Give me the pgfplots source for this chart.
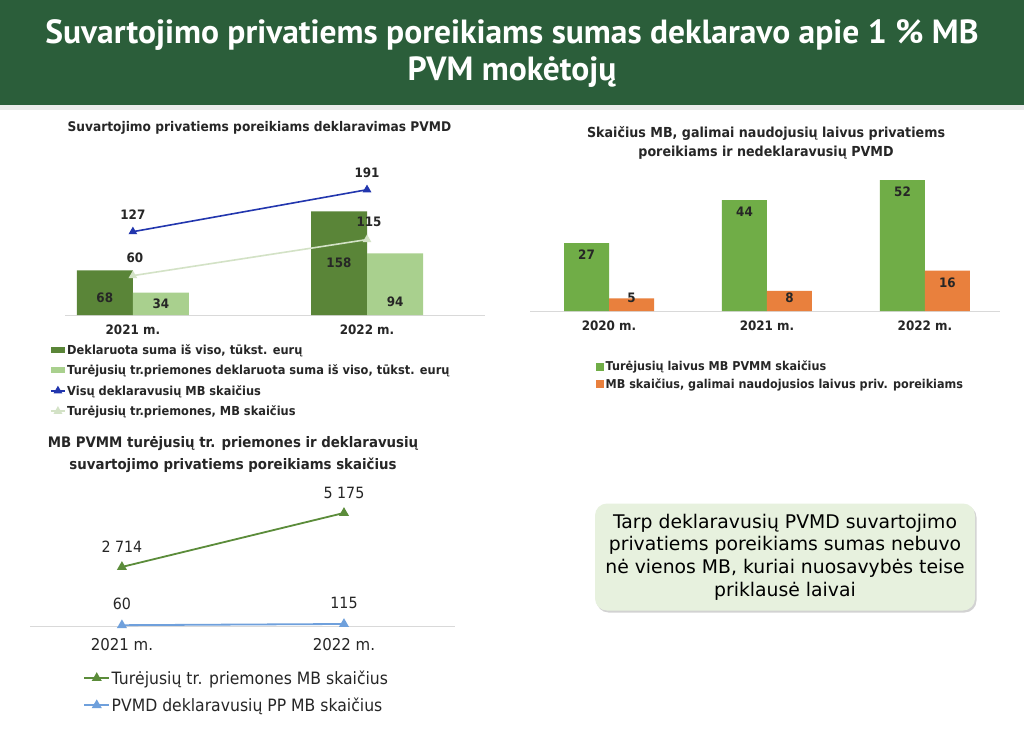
\documentclass[border=0pt]{standalone}
\usepackage{fontspec}
\setmainfont{DejaVu Sans}[FakeStretch=0.92]
\newfontfamily\bannerfont{PT Sans}
\newfontfamily\boxfont{DejaVu Sans}
\usepackage{pgfplots}
\pgfplotsset{compat=1.18}
\usetikzlibrary{shadows}

\definecolor{banner}{HTML}{2B5E3A}
\definecolor{txt}{HTML}{262626}
\definecolor{baseln}{HTML}{D9D9D9}
\definecolor{cdark}{HTML}{5A8538}
\definecolor{clight}{HTML}{A9D08E}
\definecolor{cblue}{HTML}{2236AE}
\definecolor{cpale}{HTML}{D3E2C6}
\definecolor{cgreen}{HTML}{70AD47}
\definecolor{corange}{HTML}{E9803D}
\definecolor{tgreen}{HTML}{5B8C3A}
\definecolor{tblue}{HTML}{6FA0DC}
\definecolor{boxfill}{HTML}{E7F1DE}

\pgfplotsset{
  /pgf/number format/assume math mode=true,
  slide/.style={
    scale only axis, anchor=south west,
    axis x line=bottom, axis y line=none,
    x axis line style={-, draw=baseln, line width=1pt},
    xtick style={draw=none},
    ymin=0,
    legend cell align=left,
  },
  barleg/.style={legend image code/.code={\fill[##1] (0pt,-3pt) rectangle (14pt,3pt);}},
  sqleg/.style={legend image code/.code={\fill[##1] (0pt,-4pt) rectangle (8pt,4pt);}},
  lineleg/.style={legend image code/.code={%
    \draw[##1, mark repeat=2, mark phase=2] plot coordinates {(0pt,0pt) (#1/2,0pt) (#1,0pt)};}},
}

\begin{document}
\begin{tikzpicture}
\useasboundingbox (0pt,0pt) rectangle (1024pt,737pt);
\fill[white] (0pt,0pt) rectangle (1024pt,737pt);

% banner
\fill[banner] (0pt,632pt) rectangle (1024pt,737pt);
\fill[black!8] (0pt,627pt) rectangle (1024pt,632pt);
\node[white, align=center, font=\bannerfont\bfseries\fontsize{33.5}{37}\selectfont]
  at (512pt,683pt) {Suvartojimo privatiems poreikiams sumas deklaravo apie 1 \% MB\\PVM mokėtojų};

% chart 1
\node[anchor=west, text=txt, font=\bfseries\fontsize{13.3}{15}\selectfont]
  at (64pt,609pt) {Suvartojimo privatiems poreikiams deklaravimas PVMD};
\begin{axis}[slide,
  at={(65pt,422pt)}, width=420pt, height=155pt,
  xmin=-0.29, xmax=1.504, ymax=236.3,
  xtick={0,1}, xticklabels={2021 m., 2022 m.},
  xticklabel style={text=txt, font=\bfseries\fontsize{13}{14}\selectfont, yshift=-4pt},
  legend style={at={(-0.043,-0.165)}, anchor=north west, draw=none, fill=none,
    font=\bfseries\fontsize{12.4}{13}\selectfont, text=txt, row sep=6pt,
    nodes={inner sep=1.5pt}},
]
\addplot[ybar, bar width=56pt, bar shift=-28pt, fill=cdark, draw=none, barleg]
  coordinates {(0,68) (1,158)};
\addlegendentry{Deklaruota suma iš viso, tūkst. eurų}
\addplot[ybar, bar width=56pt, bar shift=28pt, fill=clight, draw=none, barleg]
  coordinates {(0,34) (1,94)};
\addlegendentry{Turėjusių tr.priemones deklaruota suma iš viso, tūkst. eurų}
\addplot[cblue, line width=1.6pt, mark=triangle*, mark size=3.5pt, lineleg=14pt,
  nodes near coords, point meta=explicit symbolic,
  every node near coord/.append style={anchor=center, yshift=17pt, text=txt,
    font=\bfseries\fontsize{13}{14}\selectfont}]
  coordinates {(0,127) [127] (1,191) [191]};
\addlegendentry{Visų deklaravusių MB skaičius}
\addplot[cpale, line width=1.6pt, mark=triangle*, mark size=3.5pt, lineleg=14pt,
  nodes near coords, point meta=explicit symbolic,
  every node near coord/.append style={anchor=center, yshift=18pt, xshift=2pt, text=txt,
    font=\bfseries\fontsize{13}{14}\selectfont}]
  coordinates {(0,60) [60] (1,115) [115]};
\addlegendentry{Turėjusių tr.priemones, MB skaičius}
\begin{scope}[text=txt, font=\bfseries\fontsize{13}{14}\selectfont]
\node at (axis cs:-0.12,25.9) {68};
\node at (axis cs:0.88,79.3) {158};
\node at (axis cs:0.12,16.8) {34};
\node at (axis cs:1.12,19.8) {94};
\end{scope}
\end{axis}

% chart 2
\node[align=center, text=txt, font=\bfseries\fontsize{13.8}{19}\selectfont]
  at (766pt,594.5pt) {Skaičius MB, galimai naudojusių laivus privatiems\\poreikiams ir nedeklaravusių PVMD};
\begin{axis}[slide,
  at={(530pt,426pt)}, width=470pt, height=141pt,
  xmin=-0.5, xmax=2.475, ymax=56,
  xtick={0,1,2}, xticklabels={2020 m., 2021 m., 2022 m.},
  xticklabel style={text=txt, font=\bfseries\fontsize{13}{14}\selectfont, yshift=-4pt},
  legend style={at={(0.134,-0.33)}, anchor=north west, draw=none, fill=none,
    font=\bfseries\fontsize{12.2}{13}\selectfont, text=txt, row sep=3pt,
    nodes={inner sep=1.5pt}},
]
\addplot[ybar, bar width=45pt, bar shift=-22.5pt, fill=cgreen, draw=none, sqleg]
  coordinates {(0,27) (1,44) (2,52)};
\addlegendentry{Turėjusių laivus MB PVMM skaičius}
\addplot[ybar, bar width=45pt, bar shift=22.5pt, fill=corange, draw=none, sqleg]
  coordinates {(0,5) (1,8) (2,16)};
\addlegendentry{MB skaičius, galimai naudojusios laivus priv. poreikiams}
\begin{scope}[text=txt, font=\bfseries\fontsize{13}{14}\selectfont]
\node at (axis cs:-0.142,22.2) {27};
\node at (axis cs:0.858,39.3) {44};
\node at (axis cs:1.858,47.2) {52};
\node at (axis cs:0.142,5.2) {5};
\node at (axis cs:1.142,5.2) {8};
\node at (axis cs:2.142,11.1) {16};
\end{scope}
\end{axis}

% chart 3
\node[align=center, text=txt, font=\bfseries\fontsize{14.5}{22}\selectfont]
  at (233pt,282pt) {MB PVMM turėjusių tr. priemones ir deklaravusių\\suvartojimo privatiems poreikiams skaičius};
\begin{axis}[slide,
  at={(30pt,110.5pt)}, width=425pt, height=146.5pt,
  xmin=-0.414, xmax=1.5, ymax=6677,
  xtick={0,1}, xticklabels={2021 m., 2022 m.},
  xticklabel style={text=txt, font=\fontsize{16.3}{17}\selectfont, yshift=-6pt},
  legend style={at={(0.118,-0.275)}, anchor=north west, draw=none, fill=none,
    font=\fontsize{17}{18}\selectfont, text=txt, row sep=9pt,
    nodes={inner sep=1.5pt}},
]
\addplot[tgreen, line width=1.8pt, mark=triangle*, mark size=4pt, lineleg=25pt,
  nodes near coords, point meta=explicit symbolic,
  every node near coord/.append style={anchor=center, yshift=20pt, text=txt,
    font=\fontsize{15.5}{17}\selectfont}]
  coordinates {(0,2714) [2 714] (1,5175) [5 175]};
\addlegendentry{Turėjusių tr. priemones MB skaičius}
\addplot[tblue, line width=1.8pt, mark=triangle*, mark size=4pt, lineleg=25pt,
  nodes near coords, point meta=explicit symbolic,
  every node near coord/.append style={anchor=center, yshift=21pt, text=txt,
    font=\fontsize{15.5}{17}\selectfont}]
  coordinates {(0,60) [60] (1,115) [115]};
\addlegendentry{PVMD deklaravusių PP MB skaičius}
\end{axis}

% text box
\node[draw=none, fill=boxfill, rounded corners=12pt, drop shadow={opacity=0.35, shadow xshift=1.5pt, shadow yshift=-2pt},
  minimum width=380pt, minimum height=107pt, align=center, text=black,
  font=\boxfont\fontsize{18.8}{22.7}\selectfont]
  at (785pt,180pt) {Tarp deklaravusių PVMD suvartojimo\\privatiems poreikiams sumas nebuvo\\nė vienos MB, kuriai nuosavybės teise\\priklausė laivai};
\end{tikzpicture}
\end{document}
